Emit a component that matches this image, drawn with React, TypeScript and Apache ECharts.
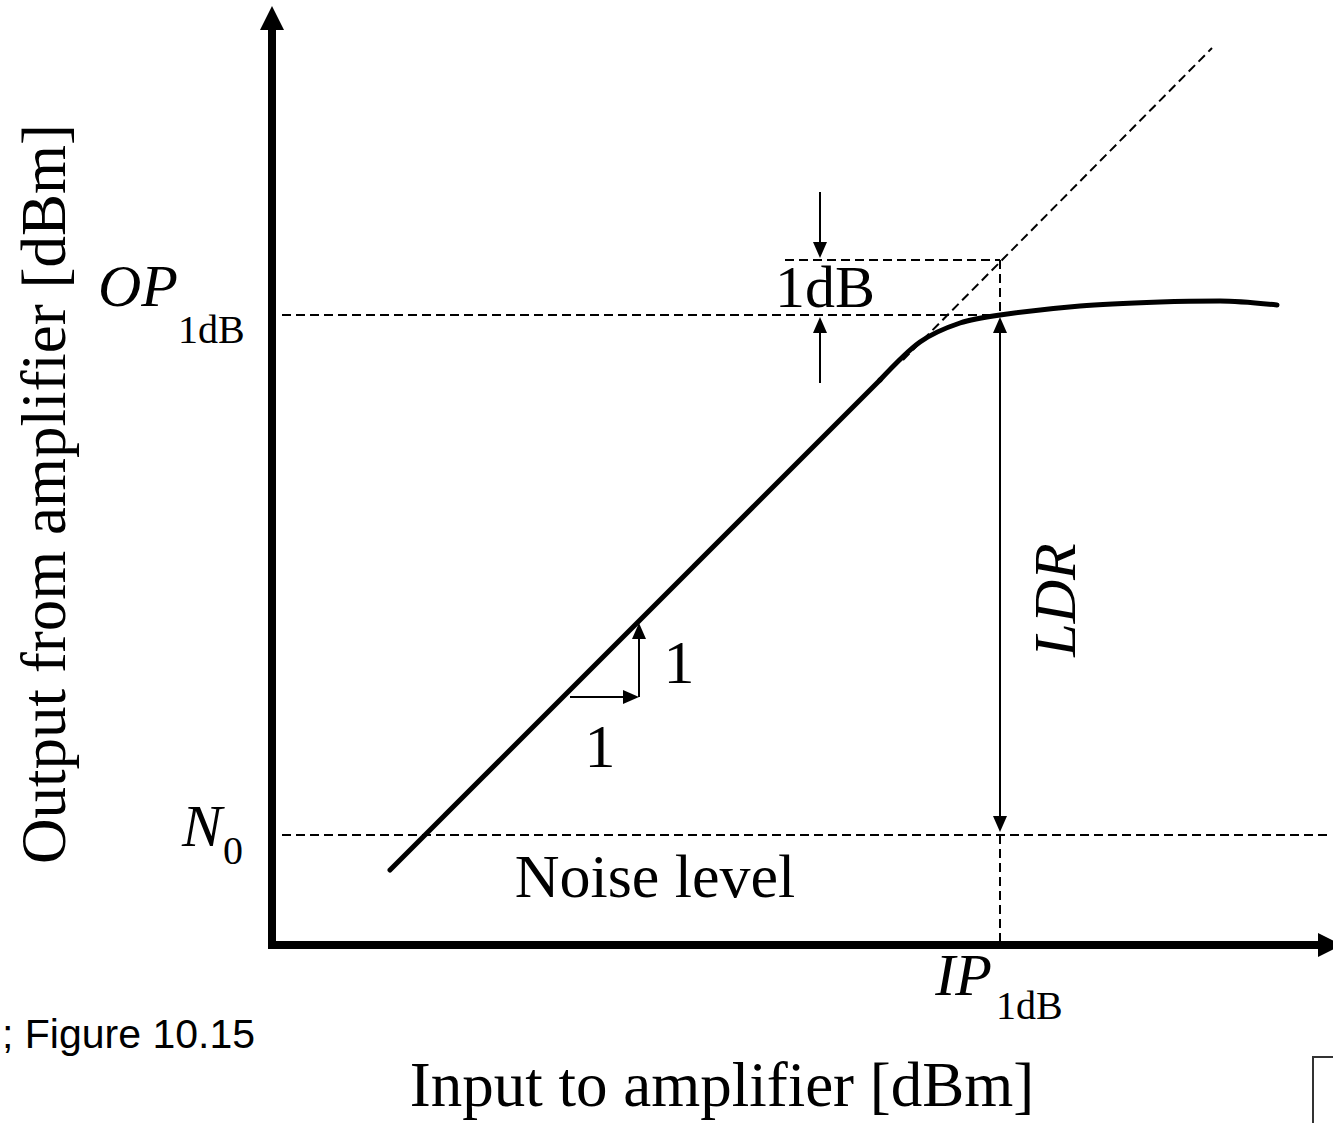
import React, { useEffect, useRef } from "react";
import * as echarts from "echarts";

// Axis ranges (arbitrary dBm units, 1 unit per 10 px so the linear part has slope 1)
const X_MIN = 0;
const X_MAX = 105.8;
const Y_MIN = 0;
const Y_MAX = 92.7;

// Amplifier output vs input: linear region (solid)
const linearRegion: [number, number][] = [
  [11.8, 7.5],
  [60.8, 56.5],
];

// Amplifier output vs input: compression knee and saturation (solid)
const compressionRegion: [number, number][] = [
  [60.8, 56.5],
  [64.8, 60.3],
  [68.8, 62.2],
  [72.8, 63.0],
  [80.8, 63.9],
  [88.8, 64.3],
  [94.8, 64.4],
  [100.5, 64.0],
];

// Ideal linear extension (dashed)
const idealExtension: [number, number][] = [
  [63.1, 58.5],
  [94.0, 89.7],
];

// Key levels
const OP_1DB = 63.0;
const IDEAL_AT_IP = 68.5;
const IP_1DB = 72.8;
const N_0 = 11.0;

// Dashed reference lines
const op1dbLine: [number, number][] = [[1.0, OP_1DB], [IP_1DB, OP_1DB]];
const idealLevelLine: [number, number][] = [[51.3, IDEAL_AT_IP], [IP_1DB, IDEAL_AT_IP]];
const ipUpperDash: [number, number][] = [[IP_1DB, IDEAL_AT_IP], [IP_1DB, OP_1DB]];
const ipLowerDash: [number, number][] = [[IP_1DB, N_0], [IP_1DB, 0]];
const noiseLine: [number, number][] = [[1.0, N_0], [106.1, N_0]];

// Arrows: [x1, y1, x2, y2, doubleHeaded]
const arrows: number[][] = [
  [54.8, 75.3, 54.8, 68.7, 0],
  [54.8, 56.2, 54.8, 62.8, 0],
  [IP_1DB, 11.3, IP_1DB, 62.8, 1],
  [29.8, 24.8, 36.7, 24.8, 0],
  [36.7, 24.8, 36.7, 32.2, 0],
];

const SERIF = '"Liberation Serif", "Times New Roman", serif';

function txt(
  x: number,
  y: number,
  text: string,
  font: string,
  align: string = "left",
  rotation: number = 0
) {
  return {
    type: "text",
    x,
    y,
    rotation,
    silent: true,
    style: { text, font, fill: "#000", align, verticalAlign: "middle" },
  };
}

function dashed(data: [number, number][]) {
  return {
    type: "line",
    data,
    symbol: "none",
    silent: true,
    clip: false,
    lineStyle: { color: "#000", width: 2, type: [9, 5] },
    z: 2,
  };
}

export default function App() {
  const ref = useRef<HTMLDivElement>(null);

  useEffect(() => {
    if (!ref.current) return;
    const chart = echarts.init(ref.current, null, { renderer: "svg" });

    const it = `italic 60px ${SERIF}`;
    const sub = `40px ${SERIF}`;

    chart.setOption({
      animation: false,
      backgroundColor: "#fff",
      grid: { left: 272, right: 3, top: 18, bottom: 178 },
      xAxis: {
        type: "value",
        min: X_MIN,
        max: X_MAX,
        axisLine: {
          show: true,
          symbol: ["none", "triangle"],
          symbolSize: [24, 24],
          lineStyle: { color: "#000", width: 8, cap: "square" },
        },
        axisTick: { show: false },
        axisLabel: { show: false },
        splitLine: { show: false },
      },
      yAxis: {
        type: "value",
        min: Y_MIN,
        max: Y_MAX,
        axisLine: {
          show: true,
          symbol: ["none", "triangle"],
          symbolSize: [24, 24],
          lineStyle: { color: "#000", width: 8, cap: "square" },
        },
        axisTick: { show: false },
        axisLabel: { show: false },
        splitLine: { show: false },
      },
      series: [
        dashed(idealExtension),
        dashed(op1dbLine),
        dashed(idealLevelLine),
        dashed(ipUpperDash),
        dashed(ipLowerDash),
        dashed(noiseLine),
        {
          type: "line",
          data: linearRegion,
          symbol: "none",
          silent: true,
          clip: false,
          lineStyle: { color: "#000", width: 5, cap: "round" },
          z: 4,
        },
        {
          type: "line",
          data: compressionRegion,
          symbol: "none",
          smooth: 0.3,
          silent: true,
          clip: false,
          lineStyle: { color: "#000", width: 5, cap: "round" },
          z: 4,
        },
        {
          type: "custom",
          data: arrows,
          clip: false,
          silent: true,
          encode: { x: [0, 2], y: [1, 3] },
          z: 5,
          renderItem: (params: any, api: any) => {
            const a = api.coord([api.value(0), api.value(1)]);
            const b = api.coord([api.value(2), api.value(3)]);
            const both = api.value(4) === 1;
            const dx = b[0] - a[0];
            const dy = b[1] - a[1];
            const len = Math.hypot(dx, dy) || 1;
            const ux = dx / len;
            const uy = dy / len;
            const L = 16;
            const W = 7;
            const head = (t: number[], sx: number, sy: number) => ({
              type: "polygon",
              shape: {
                points: [
                  [t[0], t[1]],
                  [t[0] - sx * L - sy * W, t[1] - sy * L + sx * W],
                  [t[0] - sx * L + sy * W, t[1] - sy * L - sx * W],
                ],
              },
              style: { fill: "#000" },
            });
            const start = both ? [a[0] + ux * L * 0.8, a[1] + uy * L * 0.8] : a;
            const end = [b[0] - ux * L * 0.8, b[1] - uy * L * 0.8];
            const children: any[] = [
              {
                type: "line",
                shape: { x1: start[0], y1: start[1], x2: end[0], y2: end[1] },
                style: { stroke: "#000", lineWidth: 2 },
              },
              head(b, ux, uy),
            ];
            if (both) children.push(head(a, -ux, -uy));
            return { type: "group", children };
          },
        },
      ],
      graphic: [
        // y-axis title
        txt(44, 494, "Output from amplifier [dBm]", `63px ${SERIF}`, "center", Math.PI / 2),
        // x-axis title
        txt(722, 1085, "Input to amplifier [dBm]", `63px ${SERIF}`, "center"),
        // OP1dB
        txt(178, 286, "OP", it, "right"),
        txt(178, 329, "1dB", sub, "left"),
        // N0
        txt(222, 826, "N", it, "right"),
        txt(223, 850, "0", sub, "left"),
        // IP1dB
        txt(992, 975, "IP", it, "right"),
        txt(996, 1005, "1dB", sub, "left"),
        // 1dB label
        txt(825, 287, "1dB", `60px ${SERIF}`, "center"),
        // Noise level
        txt(655, 876, "Noise level", `62px ${SERIF}`, "center"),
        // LDR
        txt(1055, 600, "LDR", it, "center", Math.PI / 2),
        // slope labels
        txt(679, 662, "1", `62px ${SERIF}`, "center"),
        txt(600, 746, "1", `62px ${SERIF}`, "center"),
        // source caption
        txt(2, 1034, "; Figure 10.15", `41px "Liberation Sans", Arial, sans-serif`, "left"),
        // cut-off box corner at bottom right
        {
          type: "polyline",
          silent: true,
          shape: { points: [[1313, 1123], [1313, 1057], [1333, 1057]] },
          style: { stroke: "#333", lineWidth: 2, fill: "none" },
        },
      ],
    });

    return () => chart.dispose();
  }, []);

  return (
    <div
      ref={ref}
      style={{ position: "absolute", left: 0, top: 0, width: 1333, height: 1123 }}
    />
  );
}
